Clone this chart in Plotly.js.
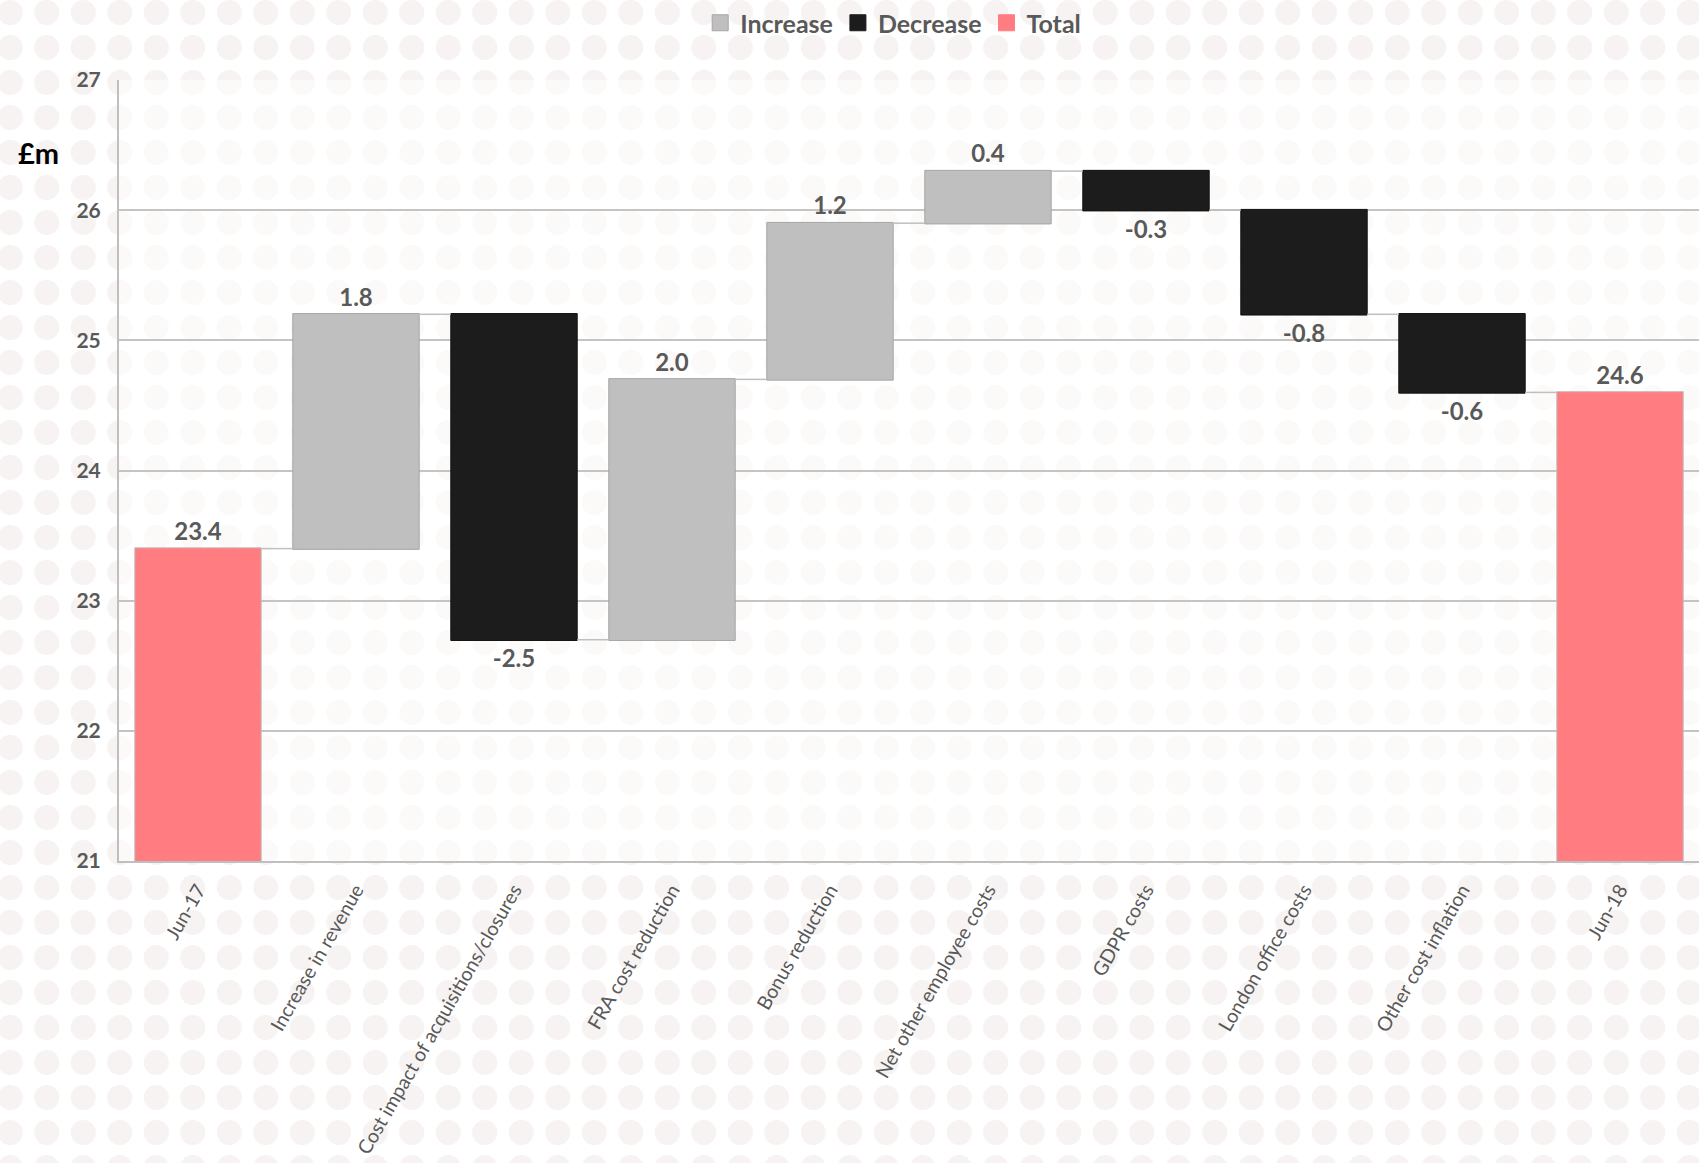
<!DOCTYPE html>
<html>
<head>
<meta charset="utf-8">
<script src="https://cdn.plot.ly/plotly-3.0.1.min.js"></script>
<style>
  html, body { margin: 0; padding: 0; }
  body {
    width: 1699px; height: 1163px; overflow: hidden;
    background-color: #ffffff;
    background-image: radial-gradient(circle, #f6f3f2 0, #f6f3f2 12px, rgba(255,255,255,0) 13px);
    background-size: 36.5px 35px;
    background-position: -8px -5px;
  }
  #chart { width: 1699px; height: 1163px; }
</style>
</head>
<body>
<div id="chart"></div>
<script>
// ---- data ----
const categories = [
  "Jun-17",
  "Increase in revenue",
  "Cost impact of acquisitions/closures",
  "FRA cost reduction",
  "Bonus reduction",
  "Net other employee costs",
  "GDPR costs",
  "London office costs",
  "Other cost inflation",
  "Jun-18"
];
const measures = ["absolute","relative","relative","relative","relative","relative","relative","relative","relative","total"];
const values = [23.4, 1.8, -2.5, 2.0, 1.2, 0.4, -0.3, -0.8, -0.6, 24.6];
const legendNames = ["Increase", "Decrease", "Total"];
const yTicks = [21, 22, 23, 24, 25, 26, 27];

// ---- styles ----
const colIncrease = "#bfbfbf";
const colDecrease = "#1c1c1c";
const colTotal = "#ff7c80";
const textGrey = "#595959";
const fontFam = "Lato, 'Open Sans', sans-serif";

const labels = values.map(v => v.toFixed(1));

const traces = [{
  type: "waterfall",
  x: categories,
  y: values,
  measure: measures,
  base: 0,
  text: labels,
  textposition: "outside",
  textinfo: "text",
  textfont: { family: fontFam, size: 24, color: textGrey, weight: "bold" },
  cliponaxis: false,
  showlegend: false,
  increasing: { marker: { color: colIncrease, line: { color: "#a6a6a6", width: 1 } } },
  decreasing: { marker: { color: colDecrease, line: { color: "#111111", width: 1 } } },
  totals: { marker: { color: colTotal, line: { color: "#bfbfbf", width: 1 } } },
  connector: { mode: "between", line: { color: "#bfbfbf", width: 1.5 } },
  hoverinfo: "x+y"
}];

const legendColors = [colIncrease, colDecrease, colTotal];
legendNames.forEach((n, i) => {
  traces.push({
    type: "scatter",
    mode: "markers",
    x: [categories[0]],
    y: [null],
    name: n,
    marker: { symbol: "square", size: 20, color: legendColors[i], line: { color: i === 0 ? "#a6a6a6" : legendColors[i], width: 1 } },
    showlegend: true,
    hoverinfo: "skip"
  });
});

const layout = {
  width: 1699,
  height: 1163,
  paper_bgcolor: "rgba(0,0,0,0)",
  plot_bgcolor: "rgba(255,255,255,0.55)",
  margin: { l: 119, r: 0, t: 79, b: 302, pad: 0 },
  font: { family: fontFam, color: textGrey },
  bargap: 0.2,
  showlegend: true,
  legend: {
    orientation: "h",
    x: 0.49, xanchor: "center",
    y: 1.103, yanchor: "top",
    font: { family: fontFam, size: 25, color: textGrey, weight: "bold" },
    bgcolor: "rgba(0,0,0,0)",
    itemwidth: 30,
    tracegroupgap: 0
  },
  xaxis: {
    type: "category",
    range: [-0.5, 9.5],
    tickangle: -60,
    tickfont: { family: fontFam, size: 19.5, color: textGrey },
    showline: true,
    linecolor: "#bfbfbf",
    linewidth: 2,
    showgrid: false,
    ticks: "outside",
    ticklen: 8,
    tickcolor: "rgba(0,0,0,0)",
    automargin: false
  },
  yaxis: {
    range: [21, 27],
    tickvals: yTicks,
    ticktext: yTicks.map(String),
    tickfont: { family: fontFam, size: 21, color: textGrey, weight: "bold" },
    showline: true,
    linecolor: "#bfbfbf",
    linewidth: 2,
    gridcolor: "#c4c4c4",
    gridwidth: 2,
    zeroline: false,
    ticks: "outside",
    ticklen: 12,
    tickcolor: "rgba(0,0,0,0)",
    automargin: false
  },
  annotations: [{
    text: "£m",
    xref: "paper", yref: "paper",
    x: (38 - 119) / 1580, y: (861 - 152) / 782,
    xanchor: "center", yanchor: "middle",
    showarrow: false,
    font: { family: fontFam, size: 29, color: "#000000", weight: "bold" }
  }]
};

Plotly.newPlot("chart", traces, layout, { displayModeBar: false, staticPlot: true });
</script>
</body>
</html>
